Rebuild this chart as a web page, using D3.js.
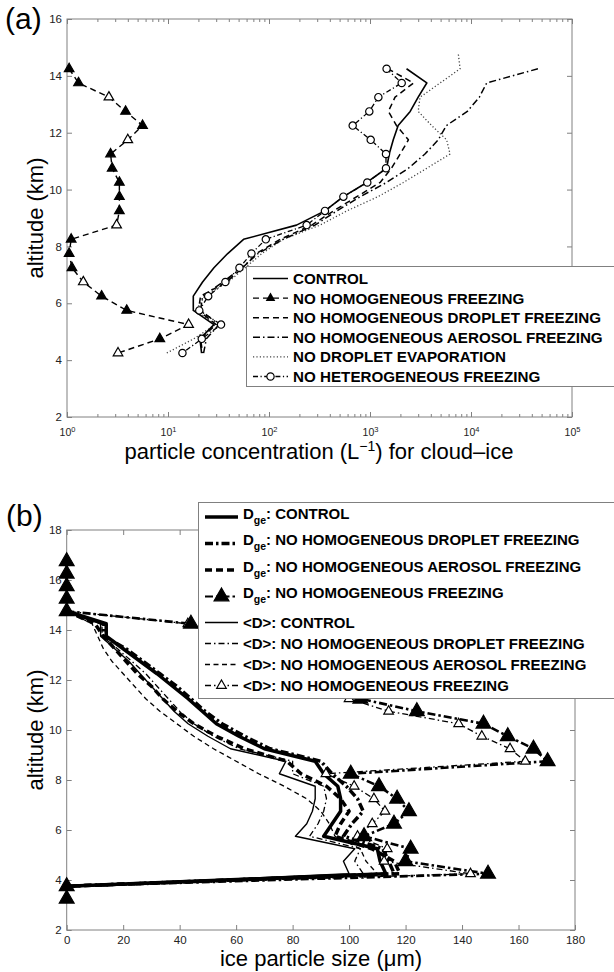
<html>
<head>
<style>
  body { margin:0; background:#fff; }
  text { font-family:"Liberation Sans", Arial, Helvetica, sans-serif; }
  .axis .domain { display:none; }
  .axis .tick line { stroke:#808080; stroke-width:1; }
  .axis .tick text { fill:#222; font-size:11.5px; font-family:"Liberation Sans", Arial, sans-serif; }
  .legend text { font-weight:bold; font-size:15.2px; fill:#000; }
</style>
</head>
<body>
<svg id="fig" width="614" height="972"></svg>
<script src="https://d3js.org/d3.v7.min.js"></script>
<script>
// panel (a): cloud-ice number concentration (L^-1) against altitude (km)
var altA = [14.75, 14.25, 13.75, 13.25, 12.75, 12.25, 11.75, 11.25, 10.75, 10.25, 9.75,
            9.25, 8.75, 8.25, 7.75, 7.25, 6.75, 6.25, 5.75, 5.25, 4.75, 4.25];
var concControl  = [null, 2300, 3650, 3000, 2500, 1900, 1700, 1550, 1460, 930, 545, 357, 187, 56, 39, 28.5, 22, 17.8, 17.8, 28.5, 20.7, 21.5];
var concNoHom    = [null, 1.05, 1.3, 2.6, 3.8, 5.6, 4.0, 2.7, 2.8, 3.3, 3.3, 3.3, 3.1, 1.1, 1.05, 1.12, 1.45, 2.2, 3.9, 16, 8.3, 3.2];
var noHomFilled  = [0, 1, 1, 0, 1, 1, 0, 1, 1, 1, 1, 1, 0, 1, 1, 1, 0, 1, 1, 0, 1, 0];
var concNoDrop   = [null, 1500, 2700, 1770, 1520, 1830, 2400, 1990, 1630, 1260, 740, 435, 265, 129, 75, 55, 38, 21, 20, 30, 21, 22];
var concNoAer    = [null, 46000, 14300, 12100, 9200, 5700, 4740, 3500, 2400, 1460, 800, 470, 285, 138, 78, 54, 35, 22, 21, 32, 24, 22.5];
var concNoEvap   = [7500, 7800, 4950, 3130, 3000, 4080, 5740, 6200, 3650, 2140, 1200, 590, 320, 138, 85, 58, 39.5, 23, 19, 29.5, 18, 9.7];
var concNoHet    = [null, 1460, 2060, 1210, 984, 674, 1016, 1440, 1440, 940, 545, 358, 236, 93, 67, 51, 37, 25, 20.4, 33.5, 21.6, 13.9];
var legendA = ["CONTROL", "NO HOMOGENEOUS FREEZING", "NO HOMOGENEOUS DROPLET FREEZING",
               "NO HOMOGENEOUS AEROSOL FREEZING", "NO DROPLET EVAPORATION", "NO HETEROGENEOUS FREEZING"];
var xTicksA = [1, 10, 100, 1000, 10000, 100000];
var yTicksA = [2, 4, 6, 8, 10, 12, 14, 16];

// panel (b): ice particle size (um) against altitude (km)
var altB = [16.75, 16.25, 15.75, 15.25, 14.75, 14.25, 13.75, 13.25, 12.75, 12.25, 11.75, 11.25, 10.75, 10.25,
            9.75, 9.25, 8.75, 8.25, 7.75, 7.25, 6.75, 6.25, 5.75, 5.25, 4.75, 4.25, 3.75, 3.25];
var dgeControl   = [null, null, null, null, 0, 14, 14, 20, 26, 32, 37.5, 43, 48, 53, 61, 70, 88, 91, 96, 97, 97, 94, 91, 110, 111, 113, 0, null];
var dgeNoDrop    = [null, null, null, null, 0, 13, 13, 21, 27, 33, 39, 44, 49, 55, 63, 72, 90, 94, 99, 103, 105, 101, 98, 112, 114, 116, 0, null];
var dgeNoAer     = [null, null, null, null, 0, 10, 13, 17, 21, 25, 30, 34, 39, 45, 53, 63, 78, 83, 92, 97, 100, 97, 95, 108, 116, 118, 0, null];
var dgeNoHom     = [0, 0, 0, 0, 0, 44, 53, 62, 73, 85, 95, 104, 124, 147.6, 156.2, 165.3, 170.3, 100.6, 110.6, 117, 121.2, 115.9, 105.3, 121.8, 120, 149.2, 0, 0];
var dControl     = [null, null, null, null, 0, 12, 12, 17, 22, 26, 30, 34, 38, 43, 50, 58, 77.6, 75.3, 88, 88, 87, 85, 81, 102, 98, 100, 0, null];
var dNoDrop      = [null, null, null, null, 0, 12.5, 12.5, 18, 23, 28, 32, 36, 40, 45, 52, 61, 80, 80, 91, 92, 91, 89, 86, 104, 102, 105, 0, null];
var dNoAer       = [null, null, null, null, 0, 9, 11, 13, 16, 20, 24, 28, 33, 39, 45, 52, 60, 68, 77, 85, 90, 93, 95, 104, 106, 110, 0, null];
var dNoHom       = [0, 0, 0, 0, 0, 42.9, 52, 60, 70, 80, 90, 100, 114, 138.8, 147, 157, 162.4, 91.8, 101.8, 108.8, 112.7, 108.2, 103, 113.5, 112.4, 143, 0, 0];
var legendB = ["CONTROL", "NO HOMOGENEOUS DROPLET FREEZING", "NO HOMOGENEOUS AEROSOL FREEZING", "NO HOMOGENEOUS FREEZING",
               "CONTROL", "NO HOMOGENEOUS DROPLET FREEZING", "NO HOMOGENEOUS AEROSOL FREEZING", "NO HOMOGENEOUS FREEZING"];
var xTicksB = [0, 20, 40, 60, 80, 100, 120, 140, 160, 180];
var yTicksB = [2, 4, 6, 8, 10, 12, 14, 16, 18];

var svg = d3.select("#fig");

var xA = d3.scaleLog().domain([1, 1e5]).range([67, 572]);
var yA = d3.scaleLinear().domain([2, 16]).range([417, 19]);
var xB = d3.scaleLinear().domain([0, 180]).range([66.7, 575]);
var yB = d3.scaleLinear().domain([2, 18]).range([930, 530]);

// boxed matlab-style frame, ticks pointing inward on all four sides
function frame(x, y, xMajor, xMinor, yMajor, pad) {
  var x0 = x.range()[0], x1 = x.range()[1], yTop = y.range()[1], yBot = y.range()[0];
  var g = svg.append("g");
  var bottom = g.append("g").attr("class", "axis").attr("transform", "translate(0," + yBot + ")")
    .call(d3.axisBottom(x).tickValues(xMajor).tickSize(-5).tickPadding(pad).tickFormat(d3.format("d")));
  g.append("g").attr("class", "axis").attr("transform", "translate(0," + yTop + ")")
    .call(d3.axisTop(x).tickValues(xMajor).tickSize(-5).tickFormat(""));
  if (xMinor) {
    g.append("g").attr("class", "axis").attr("transform", "translate(0," + yBot + ")")
      .call(d3.axisBottom(x).tickValues(xMinor).tickSize(-3).tickFormat(""));
    g.append("g").attr("class", "axis").attr("transform", "translate(0," + yTop + ")")
      .call(d3.axisTop(x).tickValues(xMinor).tickSize(-3).tickFormat(""));
  }
  g.append("g").attr("class", "axis").attr("transform", "translate(" + x0 + ",0)")
    .call(d3.axisLeft(y).tickValues(yMajor).tickSize(-5).tickPadding(5));
  g.append("g").attr("class", "axis").attr("transform", "translate(" + x1 + ",0)")
    .call(d3.axisRight(y).tickValues(yMajor).tickSize(-5).tickFormat(""));
  g.append("rect").attr("x", x0).attr("y", yTop).attr("width", x1 - x0).attr("height", yBot - yTop)
    .attr("fill", "none").attr("stroke", "#808080");
  return bottom;
}

function rows(alt, vals) {
  return alt.map(function (a, i) { return {alt: a, v: vals[i], i: i}; });
}

function drawLine(x, y, alt, vals, dash, width, color) {
  var line = d3.line()
    .defined(function (d) { return d.v != null; })
    .x(function (d) { return x(d.v); })
    .y(function (d) { return y(d.alt); });
  svg.append("path").datum(rows(alt, vals))
    .attr("d", line)
    .attr("fill", "none")
    .attr("stroke", color || "#000")
    .attr("stroke-width", width)
    .attr("stroke-dasharray", dash)
    .attr("stroke-linejoin", "round");
}

function drawMarks(x, y, alt, vals, type, size, fillFn) {
  svg.append("g").selectAll("path")
    .data(rows(alt, vals).filter(function (d) { return d.v != null; }))
    .join("path")
    .attr("d", d3.symbol(type, size))
    .attr("transform", function (d) { return "translate(" + x(d.v) + "," + y(d.alt) + ")"; })
    .attr("fill", fillFn)
    .attr("stroke", "#000")
    .attr("stroke-width", 1.2);
}

// ---------- panel (a)
var minorA = [];
for (var e = 0; e < 5; e++) for (var k = 2; k < 10; k++) minorA.push(k * Math.pow(10, e));
var bottomA = frame(xA, yA, xTicksA, minorA, yTicksA, 12);
bottomA.selectAll(".tick text").each(function (d) {
  var t = d3.select(this).text(null).attr("font-size", "10.5px").style("font-size", "10.5px");
  t.append("tspan").text("10");
  t.append("tspan").attr("dy", "-0.6em").style("font-size", "7.5px").text(Math.round(Math.log10(d)));
});

var DASH = "6,4", DASHDOT = "7,3,1.5,3", DOT = "1.2,2.2";
drawLine(xA, yA, altA, concNoEvap, DOT, 1.3, "#444");
drawLine(xA, yA, altA, concNoAer, DASHDOT, 1.5);
drawLine(xA, yA, altA, concNoDrop, DASH, 1.5);
drawLine(xA, yA, altA, concNoHet, "5,2.5,1.2,2.5", 1.3);
drawLine(xA, yA, altA, concControl, null, 1.6);
drawLine(xA, yA, altA, concNoHom, DASH, 1.4);
drawMarks(xA, yA, altA, concNoHet, d3.symbolCircle, 42, function () { return "#fff"; });
drawMarks(xA, yA, altA, concNoHom, d3.symbolTriangle, 40, function (d) { return noHomFilled[d.i] ? "#000" : "#fff"; });

// legend (a)
var legA = svg.append("g").attr("class", "legend");
legA.append("rect").attr("x", 246.5).attr("y", 266.5).attr("width", 380).attr("height", 120)
  .attr("fill", "#fff").attr("stroke", "#808080");
var styleA = [
  {dash: null, w: 1.6, c: "#000"}, {dash: DASH, w: 1.4, c: "#000", tri: 1}, {dash: DASH, w: 1.5, c: "#000"},
  {dash: DASHDOT, w: 1.5, c: "#000"}, {dash: DOT, w: 1.3, c: "#444"}, {dash: "5,2.5,1.2,2.5", w: 1.3, c: "#000", circ: 1}
];
legendA.forEach(function (name, i) {
  var yy = 278.5 + i * 19.6;
  legA.append("line").attr("x1", 253).attr("x2", 288).attr("y1", yy).attr("y2", yy)
    .attr("stroke", styleA[i].c).attr("stroke-width", styleA[i].w).attr("stroke-dasharray", styleA[i].dash);
  if (styleA[i].tri) legA.append("path").attr("d", d3.symbol(d3.symbolTriangle, 40)).attr("transform", "translate(270.5," + yy + ")");
  if (styleA[i].circ) legA.append("path").attr("d", d3.symbol(d3.symbolCircle, 42)).attr("transform", "translate(270.5," + yy + ")")
    .attr("fill", "#fff").attr("stroke", "#000").attr("stroke-width", 1.2);
  legA.append("text").attr("x", 293).attr("y", yy + 5.5).text(name);
});

// axis titles (a)
svg.append("text").attr("x", 5).attr("y", 29).attr("font-size", "30px").text("(a)");
svg.append("text").attr("transform", "translate(43,218) rotate(-90)").attr("text-anchor", "middle")
  .attr("font-size", "22px").text("altitude (km)");
var xlabA = svg.append("text").attr("x", 319).attr("y", 459).attr("text-anchor", "middle").attr("font-size", "22px");
xlabA.append("tspan").text("particle concentration (L");
xlabA.append("tspan").attr("dy", "-0.55em").attr("font-size", "14px").text("\u22121");
xlabA.append("tspan").attr("dy", "0.35em").text(") for cloud\u2013ice");

// ---------- panel (b)
frame(xB, yB, xTicksB, null, yTicksB, 6);

var TDASH = "7,4", TDASHDOT = "8,3,2.5,3", THIN_DASHDOT = "6,3,1.5,3";
drawLine(xB, yB, altB, dNoAer, "5,3.5", 1.3);
drawLine(xB, yB, altB, dNoDrop, THIN_DASHDOT, 1.3);
drawLine(xB, yB, altB, dControl, null, 1.4);
drawLine(xB, yB, altB, dNoHom, THIN_DASHDOT, 1.3);
drawLine(xB, yB, altB, dgeNoAer, TDASH, 3.5);
drawLine(xB, yB, altB, dgeNoDrop, TDASHDOT, 3.5);
drawLine(xB, yB, altB, dgeControl, null, 3.5);
drawLine(xB, yB, altB, dgeNoHom, TDASHDOT, 2.6);
drawMarks(xB, yB, altB, dNoHom.map(function (v) { return v > 0 ? v : null; }), d3.symbolTriangle, 40, function () { return "#fff"; });
drawMarks(xB, yB, altB, dgeNoHom, d3.symbolTriangle, 95, function () { return "#000"; });

// legend (b)
var legB = svg.append("g").attr("class", "legend");
legB.append("rect").attr("x", 198.5).attr("y", 502.5).attr("width", 430).attr("height", 196)
  .attr("fill", "#fff").attr("stroke", "#808080");
var styleB = [
  {dash: null, w: 3.5}, {dash: TDASHDOT, w: 3.5}, {dash: TDASH, w: 3.5}, {dash: TDASHDOT, w: 2.2, tri: 95, fill: "#000"},
  {dash: null, w: 1.4}, {dash: THIN_DASHDOT, w: 1.3}, {dash: "5,3.5", w: 1.3}, {dash: THIN_DASHDOT, w: 1.3, tri: 40, fill: "#fff"}
];
var rowY = [517, 543.5, 570, 596.5, 622.5, 643.5, 664.5, 685.5];
legendB.forEach(function (name, i) {
  var yy = rowY[i];
  legB.append("line").attr("x1", 205).attr("x2", 238).attr("y1", yy).attr("y2", yy)
    .attr("stroke", "#000").attr("stroke-width", styleB[i].w).attr("stroke-dasharray", styleB[i].dash);
  if (styleB[i].tri) legB.append("path").attr("d", d3.symbol(d3.symbolTriangle, styleB[i].tri))
    .attr("transform", "translate(221.5," + yy + ")").attr("fill", styleB[i].fill).attr("stroke", "#000").attr("stroke-width", 1.2);
  var t = legB.append("text").attr("x", 243).style("font-size", "15px");
  if (i < 4) {
    t.attr("y", yy + 1.5);
    t.append("tspan").text("D");
    t.append("tspan").attr("dy", 5).style("font-size", "10.5px").text("ge");
    t.append("tspan").attr("dy", -5).text(": " + name);
  } else {
    t.attr("y", yy + 5.5).text("<D>: " + name);
  }
});

svg.append("text").attr("x", 6).attr("y", 526).attr("font-size", "30px").text("(b)");
svg.append("text").attr("transform", "translate(43,730) rotate(-90)").attr("text-anchor", "middle")
  .attr("font-size", "22px").text("altitude (km)");
svg.append("text").attr("x", 321).attr("y", 966).attr("text-anchor", "middle").attr("font-size", "22px")
  .text("ice particle size (\u03bcm)");
</script>
</body>
</html>
